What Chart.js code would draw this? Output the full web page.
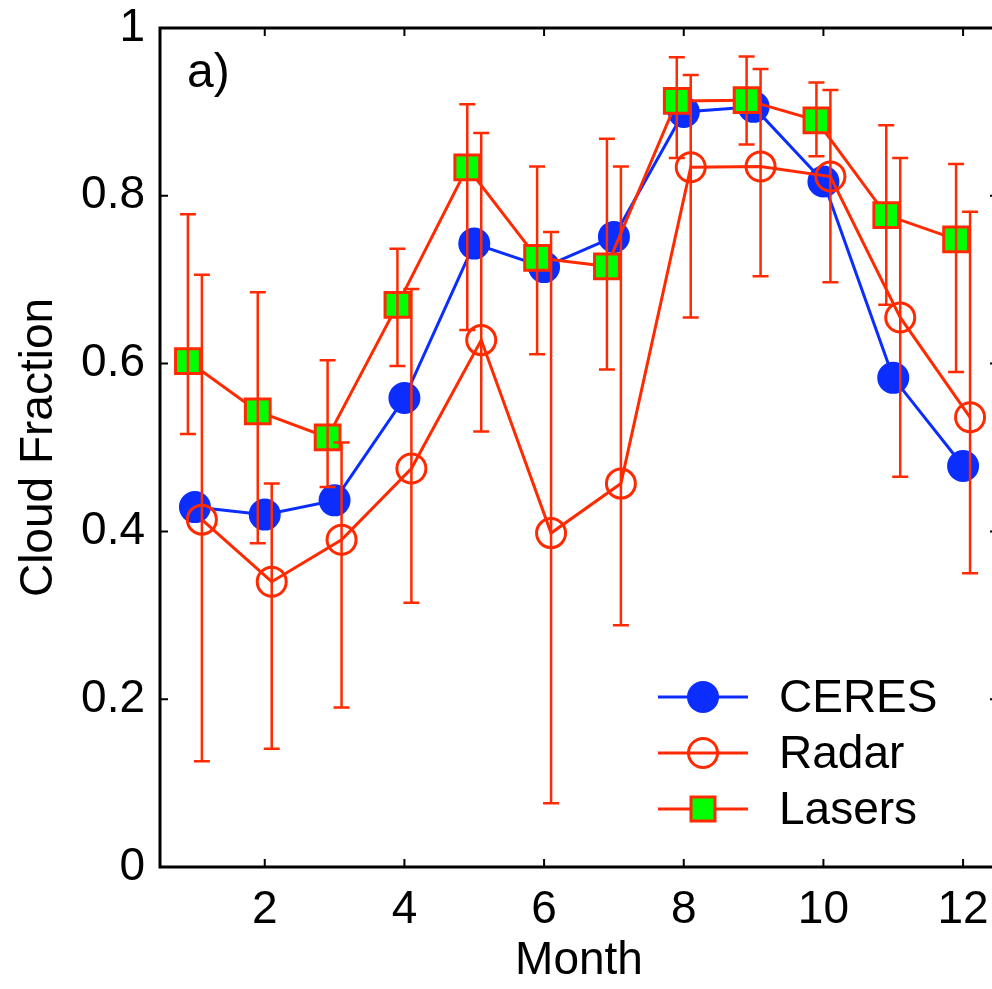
<!DOCTYPE html>
<html>
<head>
<meta charset="utf-8">
<script src="https://cdn.jsdelivr.net/npm/chart.js@4"></script>
<style>
  html, body { margin: 0; padding: 0; background: #fff; overflow: hidden; }
  canvas { display: block; }
</style>
</head>
<body>
<canvas id="chart" width="1040" height="989"></canvas>
<script>
// monthly cloud fraction
const months = [1, 2, 3, 4, 5, 6, 7, 8, 9, 10, 11, 12];

const ceres = [0.429, 0.420, 0.437, 0.559, 0.743, 0.715, 0.751, 0.900, 0.906, 0.817, 0.583, 0.478];

const radar = [0.414, 0.340, 0.390, 0.475, 0.628, 0.398, 0.457, 0.834, 0.835, 0.823, 0.655, 0.536];
const radarLow = [0.126, 0.141, 0.190, 0.315, 0.519, 0.076, 0.288, 0.655, 0.704, 0.697, 0.465, 0.350];
const radarHigh = [0.706, 0.457, 0.506, 0.689, 0.875, 0.757, 0.835, 0.944, 0.951, 0.926, 0.845, 0.781];

const lasers = [0.603, 0.543, 0.512, 0.670, 0.834, 0.726, 0.716, 0.913, 0.914, 0.890, 0.777, 0.748];
const lasersLow = [0.516, 0.386, 0.453, 0.597, 0.640, 0.611, 0.593, 0.845, 0.861, 0.847, 0.670, 0.590];
const lasersHigh = [0.778, 0.685, 0.604, 0.737, 0.909, 0.835, 0.868, 0.965, 0.966, 0.935, 0.884, 0.838];

// the two error-bar series are nudged sideways so the bars don't overlap
const radarShift = 0.1;
const lasersShift = -0.1;

const xTicks = [2, 4, 6, 8, 10, 12];
const yTicks = [0, 0.2, 0.4, 0.6, 0.8, 1];
const yTickLabels = ['0', '0.2', '0.4', '0.6', '0.8', '1'];

const BLUE = '#0b2eff';
const RED = '#ff2a00';
const GREEN = '#00ff00';
const FONT = "'Liberation Sans', Arial, Helvetica, sans-serif";

function points(vals, shift) {
  return months.map((m, i) => ({ x: m + shift, y: vals[i] }));
}

const errorBars = {
  id: 'errorBars',
  afterDatasetsDraw(chart) {
    const ctx = chart.ctx;
    const ys = chart.scales.y;
    chart.data.datasets.forEach((ds, di) => {
      if (!ds.errLow) return;
      const meta = chart.getDatasetMeta(di);
      ctx.save();
      ctx.strokeStyle = RED;
      ctx.lineWidth = 2.5;
      meta.data.forEach((pt, i) => {
        const lo = ys.getPixelForValue(ds.errLow[i]);
        const hi = ys.getPixelForValue(ds.errHigh[i]);
        ctx.beginPath();
        ctx.moveTo(pt.x, lo); ctx.lineTo(pt.x, hi);
        ctx.moveTo(pt.x - 8, lo); ctx.lineTo(pt.x + 8, lo);
        ctx.moveTo(pt.x - 8, hi); ctx.lineTo(pt.x + 8, hi);
        ctx.stroke();
      });
      ctx.restore();
    });
  }
};

const frame = {
  id: 'frame',
  afterDraw(chart) {
    const { ctx, chartArea: a, scales } = chart;
    ctx.save();
    ctx.strokeStyle = '#000';
    ctx.lineWidth = 2;
    ctx.beginPath();
    xTicks.forEach(v => {
      const px = scales.x.getPixelForValue(v);
      ctx.moveTo(px, a.bottom); ctx.lineTo(px, a.bottom - 8);
      ctx.moveTo(px, a.top); ctx.lineTo(px, a.top + 8);
    });
    yTicks.forEach(v => {
      const py = scales.y.getPixelForValue(v);
      ctx.moveTo(a.left, py); ctx.lineTo(a.left + 8, py);
      ctx.moveTo(a.right, py); ctx.lineTo(a.right - 8, py);
    });
    ctx.stroke();
    ctx.lineWidth = 3;
    ctx.strokeRect(a.left, a.top, a.right - a.left, a.bottom - a.top);

    // panel tag
    ctx.fillStyle = '#000';
    ctx.font = '48px ' + FONT;
    ctx.textBaseline = 'alphabetic';
    ctx.fillText('a)', a.left + 27, a.top + 59);

    // legend, bottom right inside the axes
    const entries = [
      { label: 'CERES', color: BLUE, draw: (x, y) => { ctx.fillStyle = BLUE; ctx.beginPath(); ctx.arc(x, y, 16, 0, Math.PI * 2); ctx.fill(); } },
      { label: 'Radar', color: RED, draw: (x, y) => { ctx.strokeStyle = RED; ctx.lineWidth = 3; ctx.beginPath(); ctx.arc(x, y, 14.5, 0, Math.PI * 2); ctx.stroke(); } },
      { label: 'Lasers', color: RED, draw: (x, y) => { ctx.fillStyle = GREEN; ctx.strokeStyle = RED; ctx.lineWidth = 3; ctx.fillRect(x - 12, y - 12, 24, 24); ctx.strokeRect(x - 12, y - 12, 24, 24); } }
    ];
    const lx = a.left + 498, ly = a.top + 669;
    entries.forEach((e, i) => {
      const y = ly + i * 56;
      ctx.strokeStyle = e.color;
      ctx.lineWidth = 3;
      ctx.beginPath(); ctx.moveTo(lx, y); ctx.lineTo(lx + 90, y); ctx.stroke();
      e.draw(lx + 45, y);
      ctx.fillStyle = '#000';
      ctx.font = '46px ' + FONT;
      ctx.textBaseline = 'middle';
      ctx.fillText(e.label, lx + 121, y + 2);
    });
    ctx.restore();
  }
};

new Chart(document.getElementById('chart'), {
  type: 'scatter',
  data: {
    datasets: [
      {
        label: 'CERES',
        data: points(ceres, 0),
        showLine: true,
        borderColor: BLUE,
        borderWidth: 3,
        pointRadius: 15,
        pointBorderWidth: 2,
        pointBackgroundColor: BLUE,
        pointBorderColor: BLUE,
        order: 3
      },
      {
        label: 'Radar',
        data: points(radar, radarShift),
        errLow: radarLow,
        errHigh: radarHigh,
        showLine: true,
        borderColor: RED,
        borderWidth: 3,
        pointRadius: 14.5,
        pointBorderWidth: 3,
        pointBackgroundColor: 'rgba(0,0,0,0)',
        pointBorderColor: RED,
        order: 2
      },
      {
        label: 'Lasers',
        data: points(lasers, lasersShift),
        errLow: lasersLow,
        errHigh: lasersHigh,
        showLine: true,
        borderColor: RED,
        borderWidth: 3,
        pointStyle: 'rect',
        pointRadius: 17.5,
        pointBorderWidth: 3,
        pointBackgroundColor: GREEN,
        pointBorderColor: RED,
        order: 1
      }
    ]
  },
  options: {
    responsive: false,
    animation: false,
    events: [],
    layout: { padding: { left: 0, right: 42, top: 28, bottom: 0 } },
    plugins: { legend: { display: false }, tooltip: { enabled: false } },
    scales: {
      x: {
        type: 'linear',
        min: 0.5,
        max: 12.5,
        grid: { display: false, drawTicks: false },
        border: { display: false },
        afterBuildTicks: s => { s.ticks = xTicks.map(v => ({ value: v })); },
        afterFit: s => { s.height = 122; s.paddingLeft = 0; s.paddingRight = 0; },
        ticks: { color: '#000', padding: 16, font: { family: FONT, size: 46 }, callback: v => String(v) },
        title: { display: true, text: 'Month', color: '#000', padding: { top: 0, bottom: 0 }, font: { family: FONT, size: 46 } }
      },
      y: {
        min: 0,
        max: 1,
        grid: { display: false, drawTicks: false },
        border: { display: false },
        afterBuildTicks: s => { s.ticks = yTicks.map(v => ({ value: v })); },
        afterFit: s => { s.width = 160; s.paddingTop = 0; s.paddingBottom = 0; },
        ticks: { color: '#000', padding: 15, font: { family: FONT, size: 46 }, callback: (v) => yTickLabels[yTicks.indexOf(v)] },
        title: { display: true, text: 'Cloud Fraction', color: '#000', padding: { top: 12, bottom: 0 }, font: { family: FONT, size: 46 } }
      }
    }
  },
  plugins: [errorBars, frame]
});
</script>
</body>
</html>
